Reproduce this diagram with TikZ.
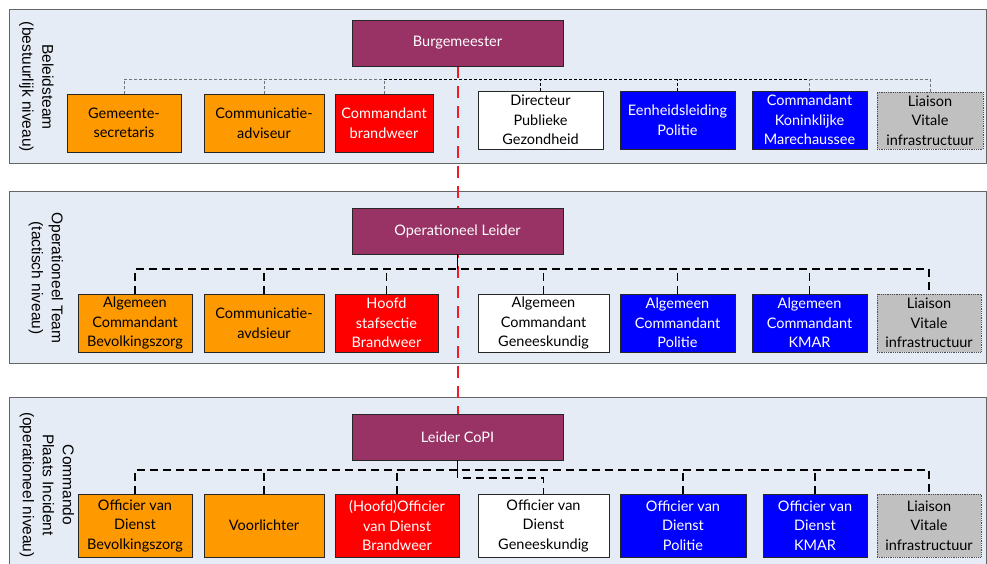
\documentclass[tikz,border=0pt]{standalone}
\usepackage{fontspec}
\setmainfont{Lato}
\newfontfamily\lblfont{Liberation Sans}
\definecolor{maroon}{HTML}{993366}
\definecolor{orng}{HTML}{FF9900}
\definecolor{rd}{HTML}{FF0000}
\definecolor{bl}{HTML}{0000FF}
\definecolor{gr}{HTML}{C0C0C0}
\definecolor{bandfill}{HTML}{E6ECF6}
\definecolor{bandline}{HTML}{666666}
\definecolor{redline}{HTML}{EE1C25}
\pgfdeclarelayer{bg}
\pgfsetlayers{bg,main}
\tikzset{
  band/.style={draw=bandline, fill=bandfill, line width=1pt},
  lbl/.style={font=\lblfont\fontsize{15.5}{20}\selectfont, align=center, rotate=-90, inner sep=0pt},
  box/.style={draw=black!85, line width=0.8pt, align=center, inner sep=1pt,
    font=\fontsize{14.5}{19.5}\selectfont},
  sz/.style 2 args={minimum width=#1, minimum height=#2},
  orbox/.style={box, fill=orng, text=black},
  rdbox/.style={box, fill=rd, text=white},
  blbox/.style={box, fill=bl, text=white},
  whbox/.style={box, fill=white, text=black},
  grbox/.style={box, fill=gr, text=black, draw=black!70, densely dotted},
  topbox/.style={box, fill=maroon, text=white, minimum width=211, minimum height=46},
  thinG/.style={draw=black!55, line width=0.9pt, dash pattern=on 3pt off 2pt},
  thinK/.style={draw=black, line width=0.9pt, dash pattern=on 3pt off 2pt},
  dashK/.style={draw=black, line width=1.5pt, dash pattern=on 8pt off 5pt},
  solidK/.style={draw=black, line width=1.5pt},
  redl/.style={draw=redline, line width=2pt, dash pattern=on 12pt off 8pt}
}
\begin{document}
\begin{tikzpicture}[x=1pt,y=-1pt]
\useasboundingbox (0,0) rectangle (987,563);
\clip (0,0) rectangle (987,563);
\begin{pgfonlayer}{bg}
\draw[band] (9.5,9) rectangle (986,163);
\draw[band] (9.5,191) rectangle (986,363);
\draw[band] (9.5,397) rectangle (986,580);
\end{pgfonlayer}
\node[lbl] (l1) at (36.5,87) {Beleidsteam\\(bestuurlijk niveau)};
\node[lbl] (l2) at (46,278) {Operationeel Team\\(tactisch niveau)};
\node[lbl] (l3) at (47,485) {Commando\\Plaats Incident\\(operationeel niveau)};
% top boxes
\node[topbox] (bm) at (457.5,43) {Burgemeester};
\node[topbox] (ol) at (457.5,231) {Operationeel Leider};
\node[topbox] (cp) at (457.5,437) {Leider CoPI};
% row 1
\node[orbox, sz={114}{58}] (g1) at (124,123) {Gemeente-\\secretaris};
\node[orbox, sz={120}{58}] (g2) at (264,123) {Communicatie-\\adviseur};
\node[rdbox, sz={98}{58}] (g3) at (384,123) {Commandant\\brandweer};
\node[whbox, sz={125}{58}] (g4) at (540.5,120) {Directeur\\Publieke\\Gezondheid};
\node[blbox, sz={115}{58}] (g5) at (677.5,120) {Eenheidsleiding\\Politie};
\node[blbox, sz={115}{58}] (g6) at (809.5,120) {Commandant\\Koninklijke\\Marechaussee};
\node[grbox, sz={106}{57}] (g7) at (930,120.5) {Liaison\\Vitale\\infrastructuur};
% row 2
\node[orbox, sz={114}{58}] (o1) at (135,323) {Algemeen\\Commandant\\Bevolkingszorg};
\node[orbox, sz={120}{58}] (o2) at (264,323) {Communicatie-\\avdsieur};
\node[rdbox, sz={103}{58}] (o3) at (386.5,323) {Hoofd\\stafsectie\\Brandweer};
\node[whbox, sz={131}{58}] (o4) at (543.5,323) {Algemeen\\Commandant\\Geneeskundig};
\node[blbox, sz={115}{58}] (o5) at (677.5,323) {Algemeen\\Commandant\\Politie};
\node[blbox, sz={115}{58}] (o6) at (809.5,323) {Algemeen\\Commandant\\KMAR};
\node[grbox, sz={104}{58}] (o7) at (929,323) {Liaison\\Vitale\\infrastructuur};
% row 3
\node[orbox, sz={114}{63}] (c1) at (135,525.5) {Officier van\\Dienst\\Bevolkingszorg};
\node[orbox, sz={120}{63}] (c2) at (264,525.5) {Voorlichter};
\node[rdbox, sz={124}{63}] (c3) at (397,525.5) {(Hoofd)Officier\\van Dienst\\Brandweer};
\node[whbox, sz={131}{63}] (c4) at (543.5,525.5) {Officier van\\Dienst\\Geneeskundig};
\node[blbox, sz={126}{63}] (c5) at (683,525.5) {Officier van\\Dienst\\Politie};
\node[blbox, sz={104}{63}] (c6) at (815,525.5) {Officier van\\Dienst\\KMAR};
\node[grbox, sz={104}{63}] (c7) at (929,525.5) {Liaison\\Vitale\\infrastructuur};
% red dashed line
\begin{pgfonlayer}{bg}
\draw[redl] (bm.south) -- (cp.north);
\end{pgfonlayer}
% row 1 connectors
\coordinate (r1) at (457.5,79);
\draw[thinG] (g1.north) -- (g1.north |- r1) -- (g3.north |- r1);
\draw[thinG] (g2.north) -- (g2.north |- r1);
\draw[thinG] (g3.north) -- (g3.north |- r1);
\draw[thinK] (g3.north |- r1) -- (g6.north |- r1);
\draw[thinK] (g4.north) -- (g4.north |- r1);
\draw[thinK] (g5.north) -- (g5.north |- r1);
\draw[thinG] (g6.north |- r1) -- (g7.north |- r1) -- (g7.north);
\draw[thinG] (g6.north) -- (g6.north |- r1);
% row 2 connectors
\coordinate (r2) at (457.5,269);
\draw[solidK] (ol.south) -- (r2);
\draw[dashK] (o1.north) |- (o7.north |- r2) -- (o7.north);
\foreach \n in {o2,o3,o4,o5,o6}{\draw[dashK] (\n.north) -- (\n.north |- r2);}
% row 3 connectors
\coordinate (r3) at (457.5,470);
\coordinate (r3b) at (457.5,478);
\draw[solidK] (cp.south) -- (r3);
\draw[dashK] (r3) -- (r3b) -| (c4.north);
\draw[dashK] (c1.north) |- (c7.north |- r3) -- (c7.north);
\foreach \n in {c2,c3,c5,c6}{\draw[dashK] (\n.north) -- (\n.north |- r3);}
\end{tikzpicture}
\end{document}
